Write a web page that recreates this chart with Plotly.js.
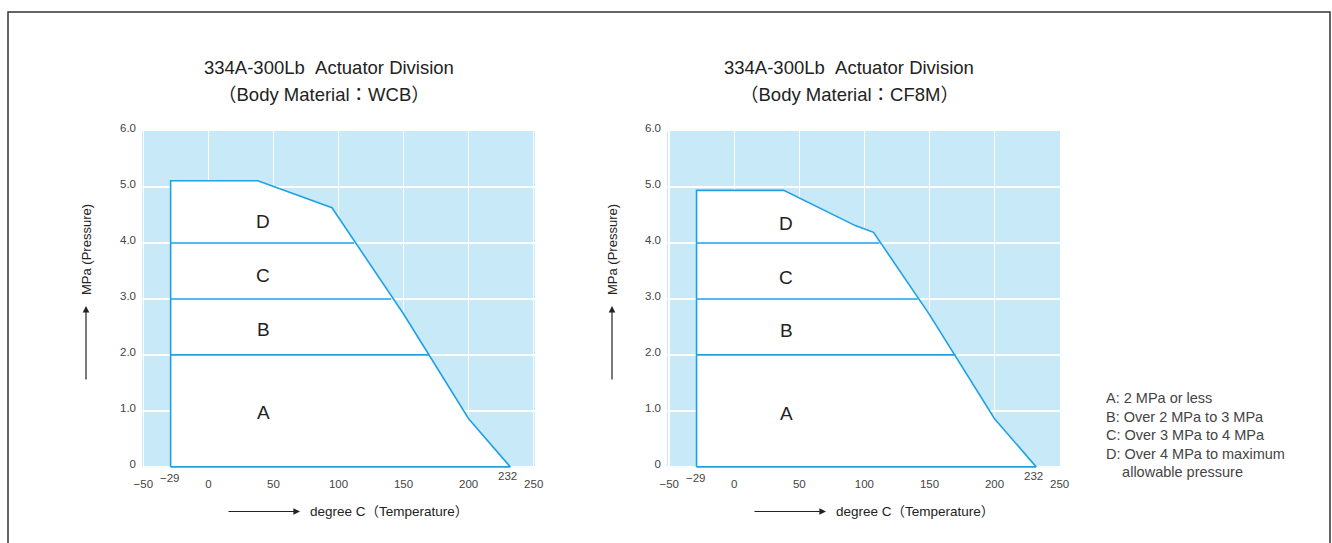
<!DOCTYPE html>
<html>
<head>
<meta charset="utf-8">
<script src="https://cdn.plot.ly/plotly-3.0.1.min.js"></script>
<style>html,body{margin:0;padding:0;background:#fff;}#chart{width:1332px;height:543px;}</style>
</head>
<body>
<div id="chart"></div>
<script>
// ---- data ----
const tempTickVals = [-50, 0, 50, 100, 150, 200, 250];
const tempTickText = ['\u221250', '0', '50', '100', '150', '200', '250'];
const pressTickVals = [0, 1, 2, 3, 4, 5, 6];
const pressTickText = ['0', '1.0', '2.0', '3.0', '4.0', '5.0', '6.0'];

const chartTitle = '334A-300Lb\u00a0\u00a0Actuator Division';
const chartSubtitles = ['（Body Material：WCB）', '（Body Material：CF8M）'];

// boundary polygons (temperature °C, pressure MPa)
const wcbTemp  = [-29, -29, 38, 95, 150, 200, 232, -29];
const wcbPress = [0, 5.11, 5.11, 4.63, 2.73, 0.86, 0, 0];
const cf8mTemp  = [-29, -29, 38, 93, 107, 150, 200, 232, -29];
const cf8mPress = [0, 4.94, 4.94, 4.31, 4.19, 2.72, 0.86, 0, 0];

// zone dividers: pressure levels and where each meets the boundary
const dividerPress = [2, 3, 4];
const wcbDividerEnd = [169.5, 140.5, 112];
const cf8mDividerEnd = [170, 141, 111.5];
const minTemp = -29;
const maxTemp = 232;

// zone labels
const zoneNames = ['A', 'B', 'C', 'D'];
const wcbZoneTemp = 42;
const wcbZonePress = [0.97, 2.45, 3.42, 4.38];
const cf8mZoneTemp = 40;
const cf8mZonePress = [0.95, 2.43, 3.39, 4.35];

const legendLines = ['A: 2 MPa or less', 'B: Over 2 MPa to 3 MPa', 'C: Over 3 MPa to 4 MPa',
                     'D: Over 4 MPa to maximum', '\u00a0\u00a0\u00a0\u00a0allowable pressure'];

const yTitle = 'MPa (Pressure)';
const xTitle = 'degree C（Temperature）';

// ---- styling ----
const W = 1332, H = 543;
const FONT = 'Liberation Sans, Arial, Noto Sans CJK JP, sans-serif';
const BLUE = '#1ea2e6';
const BG = '#c8e9f8';
const px = v => v / W;
const py = v => 1 - v / H;

function divider(ends) {
  const x = [], y = [];
  dividerPress.forEach((p, i) => { x.push(minTemp, ends[i], null); y.push(p, p, null); });
  return {x, y};
}

const traces = [];
[[wcbTemp, wcbPress, wcbDividerEnd, 'x', 'y'], [cf8mTemp, cf8mPress, cf8mDividerEnd, 'x2', 'y2']].forEach(([t, p, ends, xa, ya]) => {
  traces.push({x: t, y: p, xaxis: xa, yaxis: ya, type: 'scatter', mode: 'lines', fill: 'toself',
    fillcolor: '#ffffff', line: {color: BLUE, width: 1.6}, hoverinfo: 'skip', showlegend: false});
  const d = divider(ends);
  traces.push({x: d.x, y: d.y, xaxis: xa, yaxis: ya, type: 'scatter', mode: 'lines',
    line: {color: BLUE, width: 1.6}, hoverinfo: 'skip', showlegend: false});
});

function xaxis(domain, range) {
  return {domain, range, tickvals: tempTickVals, ticktext: tempTickText, showgrid: true,
    gridcolor: '#ffffff', gridwidth: 1.5, zeroline: false, showline: false, ticks: '',
    ticklabelstandoff: 7, tickfont: {family: FONT, size: 11.5, color: '#444'}, fixedrange: true};
}
function yaxis(range) {
  return {domain: [py(468), py(131)], range, tickvals: pressTickVals, ticktext: pressTickText,
    showgrid: true, gridcolor: '#ffffff', gridwidth: 1.5, zeroline: false, showline: false,
    ticks: '', ticklabelstandoff: 5, ticklabelshift: -3,
    tickfont: {family: FONT, size: 11.5, color: '#444'}, fixedrange: true};
}

const annotations = [];
function txt(x, y, text, size, color, extra) {
  return Object.assign({xref: 'paper', yref: 'paper', x: px(x), y: py(y), text, showarrow: false,
    xanchor: 'center', yanchor: 'middle', font: {family: FONT, size, color}}, extra || {});
}
const panels = [
  {xa: 'x', ya: 'y', zt: wcbZoneTemp, zp: wcbZonePress, off: 0, titleX: 329, subX: 324},
  {xa: 'x2', ya: 'y2', zt: cf8mZoneTemp, zp: cf8mZonePress, off: 526, titleX: 849, subX: 849}
];
panels.forEach((pn, i) => {
  annotations.push(txt(pn.titleX, 67, chartTitle, 18.5, '#222'));
  annotations.push(txt(pn.subX, 94, chartSubtitles[i], 18.5, '#222'));
  zoneNames.forEach((z, k) => annotations.push({xref: pn.xa, yref: pn.ya, x: pn.zt, y: pn.zp[k], text: z,
    showarrow: false, xanchor: 'center', yanchor: 'middle', font: {family: FONT, size: 19, color: '#222'}}));
  annotations.push({xref: pn.xa, yref: 'paper', x: minTemp, y: py(477.5), text: '\u221229', showarrow: false,
    xanchor: 'center', yanchor: 'middle', xshift: -1, font: {family: FONT, size: 11.5, color: '#444'}});
  annotations.push({xref: pn.xa, yref: 'paper', x: maxTemp, y: py(476), text: String(maxTemp), showarrow: false,
    xanchor: 'center', yanchor: 'middle', xshift: -3, font: {family: FONT, size: 11.5, color: '#444'}});
  // y title
  annotations.push(txt(87 + pn.off, 250, yTitle, 13, '#222', {textangle: -90}));
  annotations.push({xref: 'paper', yref: 'paper', x: px(86 + pn.off), y: py(306), text: '', showarrow: true,
    axref: 'pixel', ayref: 'pixel', ax: 0, ay: 75, arrowhead: 2, arrowsize: 1.1, arrowwidth: 1.2, arrowcolor: '#222'});
  // x title
  annotations.push(txt(308 + pn.off, 511, xTitle, 13.5, '#222', {xanchor: 'left'}));
  annotations.push({xref: 'paper', yref: 'paper', x: px(300 + pn.off), y: py(511.5), text: '', showarrow: true,
    axref: 'pixel', ayref: 'pixel', ax: -73, ay: 0, arrowhead: 2, arrowsize: 1.1, arrowwidth: 1.2, arrowcolor: '#222'});
});
const legendY = [398, 416.5, 435, 453.5, 472];
legendLines.forEach((t, i) => annotations.push(txt(1104, legendY[i], t, 14.5, '#444', {xanchor: 'left'})));

const layout = {
  width: W, height: H, margin: {l: 0, r: 0, t: 0, b: 0}, paper_bgcolor: '#ffffff', plot_bgcolor: BG,
  showlegend: false,
  xaxis: Object.assign(xaxis([px(142), px(535)], [-51, 251]), {anchor: 'y'}),
  yaxis: Object.assign(yaxis([-0.02, 6]), {anchor: 'x'}),
  xaxis2: Object.assign(xaxis([px(667), px(1060)], [-51.7, 250.3]), {anchor: 'y2'}),
  yaxis2: Object.assign(yaxis([-0.02, 6]), {anchor: 'x2'}),
  annotations,
  shapes: [{type: 'rect', xref: 'paper', yref: 'paper', x0: px(8), x1: px(1330), y0: -0.2, y1: py(12),
    line: {color: '#333', width: 1.5}, fillcolor: 'rgba(0,0,0,0)', layer: 'above'}]
};

Plotly.newPlot('chart', traces, layout, {staticPlot: true, displayModeBar: false});
</script>
</body>
</html>
